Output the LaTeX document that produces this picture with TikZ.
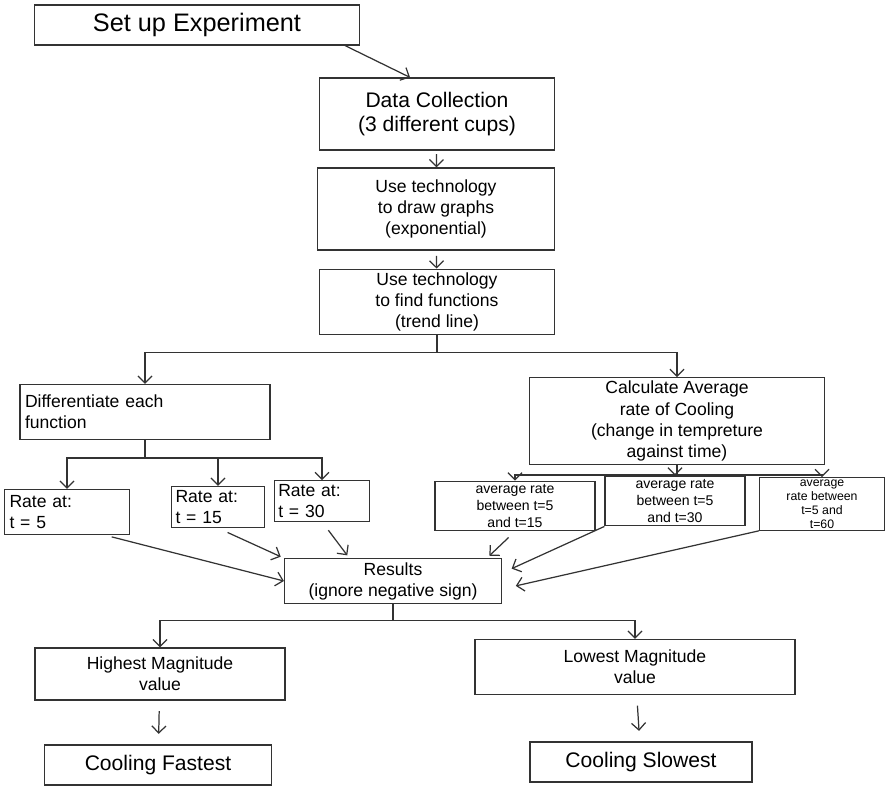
\documentclass[tikz,border=0pt]{standalone}
\usepackage{fontspec}
\setmainfont{Liberation Sans}
\usetikzlibrary{arrows.meta,calc}

\begin{document}
\begin{tikzpicture}[x=0.02cm,y=-0.02cm,
    box/.style={draw=black!80,line width=0.7pt,align=center,inner sep=2pt},
    arr/.style={-{Straight Barb[length=4pt,width=8pt]},draw=black!80,line width=0.7pt}]
        \useasboundingbox (0,0) rectangle (889,787);
        \node[box,minimum width=6.5cm,minimum height=0.8cm,font=\Large] (setup) at (197,25) {Set up Experiment};
        \node[box,minimum width=4.7cm,minimum height=1.44cm,font=\large] (data) at (437,114) {Data Collection\\(3 different cups)};
        \node[box,minimum width=4.74cm,minimum height=1.64cm] (graphs) at (436,209) {Use technology\\to draw graphs\\(exponential)};
        \node[box,minimum width=4.7cm,minimum height=1.3cm] (func) at (437,302) {Use technology\\to find functions\\(trend line)};
        \node[box,minimum width=5cm,minimum height=1.1cm,align=left,text width=4.8cm] (diff) at (145,412) {Differentiate each\\function\\[2pt]};
        \node[box,minimum width=5.9cm,minimum height=1.56cm] (calc) at (677,421) {Calculate Average\\rate of Cooling\\(change in tempreture\\against time)};
        \node[box,minimum width=2.5cm,minimum height=0.9cm,align=left,text width=2.3cm] (rate5) at (67,512) {Rate at:\\t = 5};
        \node[box,minimum width=1.86cm,minimum height=0.82cm,align=left,text width=1.7cm] (rate15) at (218,507) {Rate at:\\t = 15};
        \node[box,minimum width=1.9cm,minimum height=0.74cm,align=left,text width=1.75cm] (rate30) at (322,501) {Rate at:\\t = 30};
        \node[box,minimum width=3.2cm,minimum height=0.96cm,font=\footnotesize] (avg15) at (515,506) {average rate\\between t=5\\and t=15};
        \node[box,minimum width=2.8cm,minimum height=0.94cm,font=\footnotesize] (avg30) at (675,501) {average rate\\between t=5\\and t=30};
        \node[box,minimum width=2.5cm,minimum height=1.04cm,font=\scriptsize,inner sep=1pt] (avg60) at (822,504) {average\\rate between\\t=5 and\\t=60};
        \node[box,minimum width=4.34cm,minimum height=0.76cm] (results) at (393,581) {Results\\(ignore negative sign)};
        \node[box,minimum width=5cm,minimum height=1.04cm] (high) at (160,674) {Highest Magnitude\\value};
        \node[box,minimum width=6.4cm,minimum height=1.1cm] (low) at (635,667) {Lowest Magnitude\\value};
        \node[box,minimum width=4.54cm,minimum height=0.8cm,font=\large] (fast) at (158,765) {Cooling Fastest};
        \node[box,minimum width=4.44cm,minimum height=0.8cm,font=\large] (slow) at (641,762) {Cooling Slowest};

        \draw[arr] ($(setup.south east)+(-15,0)$) -- ($(data.north)+(-27,0)$);
        \draw[arr,shorten <=2pt] (data) -- (graphs);
        \draw[arr,shorten <=3pt] (graphs) -- (func);
        \draw[line width=0.7pt,black!80] (func.south) -- ++(0,17) coordinate (j1);
        \foreach \n in {diff,calc} {
          \draw[arr] (j1) -| (\n.north);
        }
        \draw[line width=0.7pt,black!80] (diff.south) -- ++(0,18) coordinate (j2);
        \foreach \n in {rate5,rate15,rate30} {
          \draw[arr] (j2) -| (\n.north);
        }
        \draw[line width=0.7pt,black!80] (calc.south) -- ++(0,10) coordinate (j3);
        \foreach \n in {avg15,avg30,avg60} {
          \draw[arr] (j3) -| (\n.north);
        }
        \draw[arr,shorten <=4pt] ($(rate5.south)!0.6!(rate5.south east)$) -- (results.west);
        \draw[arr,shorten <=6pt,shorten >=2pt] (rate15.south) -- (results.north west);
        \draw[arr,shorten <=6pt,shorten >=2pt] (rate30.south) -- ($(results.north west)!0.3!(results.north east)$);
        \draw[arr,shorten <=5pt,shorten >=2pt] (avg15.south) -- ($(results.north west)!0.93!(results.north east)$);
        \draw[arr,shorten >=6pt] (avg30.south west) -- ($(results.east)+(0,-8)$);
        \draw[arr,shorten >=8pt] (avg60.south west) -- ($(results.east)+(0,8)$);
        \draw[line width=0.7pt,black!80] (results.south) -- ++(0,17) coordinate (j4);
        \foreach \n in {high,low} {
          \draw[arr] (j4) -| (\n.north);
        }
        \draw[arr,shorten <=6pt,shorten >=6pt] (high) -- (fast);
        \draw[arr,shorten <=6pt,shorten >=6pt] (low) -- (slow);
      \end{tikzpicture}
\end{document}
